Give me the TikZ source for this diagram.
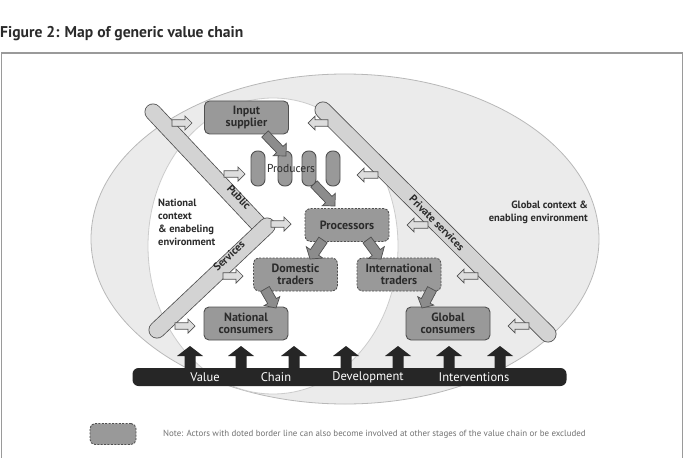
\documentclass[tikz,border=0pt]{standalone}
\usepackage{fontspec}
\setmainfont{PT Sans}
\usetikzlibrary{calc}
\definecolor{outerfill}{HTML}{EBEBEB}
\definecolor{outerline}{HTML}{B8B8B8}
\definecolor{innerline}{HTML}{CCCCCC}
\definecolor{boxfill}{HTML}{999999}
\definecolor{boxline}{HTML}{505050}
\definecolor{txt}{HTML}{2B2B2B}
\definecolor{barfill}{HTML}{D3D3D3}
\definecolor{hollowfill}{HTML}{DDDDDD}
\definecolor{fatfill}{HTML}{8C8C8C}
\definecolor{blk}{HTML}{262626}
\definecolor{framec}{HTML}{9A9A9A}
\definecolor{notec}{HTML}{707070}
\newcommand\fatarr[6]{%
  \coordinate (fah) at ($(#3)!#6!(#2)$);
  \draw[#1] ($(#2)!#4!90:(#3)$) -- ($(fah)!#4!90:(#3)$) -- ($(fah)!#5!90:(#3)$) -- (#3)
    -- ($(fah)!#5!-90:(#3)$) -- ($(fah)!#4!-90:(#3)$) -- ($(#2)!#4!-90:(#3)$) -- cycle;
}
\tikzset{
  actor/.style={draw=boxline, fill=boxfill, line width=0.9pt, rounded corners=5pt,
    minimum width=84pt, minimum height=33pt, align=center, inner sep=1pt,
    text=txt, font=\bfseries\fontsize{12}{12.5}\selectfont},
  flexactor/.style={actor, dashed, dash pattern=on 2pt off 1.4pt},
  pill/.style={draw=boxline, fill=boxfill, line width=0.9pt, rounded corners=6.5pt,
    minimum width=14pt, minimum height=35pt, inner sep=0pt},
  hollow/.style={draw=boxline, fill=hollowfill, line width=0.7pt, line join=miter},
  fat/.style={draw=boxline, fill=fatfill, line width=0.7pt},
  blkarr/.style={fill=blk, draw=none},
  ctx/.style={text=txt, font=\bfseries\fontsize{10.5}{13}\selectfont, inner sep=0pt},
  barlabel/.style={text=txt, font=\bfseries\fontsize{11}{11}\selectfont, inner sep=0pt},
  bartext/.style={text=white, font=\fontsize{12.5}{12.5}\selectfont, inner sep=0pt, anchor=center}
}
\begin{document}
\begin{tikzpicture}[x=1pt,y=-1pt]
\useasboundingbox (0,0) rectangle (684,457);
% title and frame
\node[anchor=base west, inner sep=0pt, text=txt, font=\bfseries\fontsize{15.6}{17}\selectfont] (title) at (0,38) {Figure 2: Map of generic value chain};
\draw[framec, line width=1.2pt] (1.5,462) -- (1.5,53) -- (682.5,53) -- (682.5,462);
% contexts
\draw[outerline, fill=outerfill, line width=0.8pt] (345,239) ellipse [x radius=254, y radius=165];
\draw[innerline, fill=white, line width=0.8pt] (273,246) ellipse [x radius=125, y radius=148];
% service bars
\coordinate (pubA) at (153,112);
\coordinate (pubB) at (262,228);
\coordinate (serA) at (157,330);
\coordinate (serB) at (267,226);
\coordinate (priA) at (323,110);
\coordinate (priB) at (548,334);
\draw[boxline, line width=17pt, line cap=round] (pubA) -- (pubB);
\draw[barfill, line width=15.4pt, line cap=round] (pubA) -- (pubB);
\draw[boxline, line width=17pt, line cap=round] (serA) -- (serB);
\draw[barfill, line width=15.4pt, line cap=round] (serA) -- (serB);
\draw[boxline, line width=17pt, line cap=round] (priA) -- (priB);
\draw[barfill, line width=15.4pt, line cap=round] (priA) -- (priB);
\node[barlabel, rotate=-47] (publbl) at (239,197) {Public};
\node[barlabel, rotate=43] (serlbl) at (229,256) {Services};
\node[barlabel, rotate=-45] (prilbl) at (437,223) {Private services};
% hollow arrows from services
\foreach \i/\xa/\xb/\yy in {1/172/192/123, 2/224/245/174, 3/271/291/224, 4/223/243/276, 5/175/195/326}{
  \coordinate (hlA\i) at (\xa,\yy);
  \coordinate (hlB\i) at (\xb,\yy);
  \fatarr{hollow}{hlA\i}{hlB\i}{3.2pt}{7pt}{7pt}
}
\foreach \i/\xa/\xb/\yy in {1/328/308/123, 2/378/357/175, 3/428/407/225, 4/478/457/276, 5/529/508/326}{
  \coordinate (hrA\i) at (\xa,\yy);
  \coordinate (hrB\i) at (\xb,\yy);
  \fatarr{hollow}{hrA\i}{hrB\i}{3.2pt}{7pt}{7pt}
}
% actors
\node[actor] (input) at (246.5,117.5) {Input\\supplier};
\foreach \i/\xx in {1/258,2/285,3/309,4/333}{
  \node[pill] (prod\i) at (\xx,168.5) {};
}
\node[flexactor] (proc) at (347,225) {Processors};
\node[flexactor] (dom) at (295.5,274.5) {Domestic\\traders};
\node[flexactor] (intl) at (399,274.5) {International\\traders};
\node[actor] (natc) at (246,323.5) {National\\consumers};
\node[actor] (globc) at (448,323.5) {Global\\consumers};
% flows between actors
\coordinate (f1a) at (265,134);
\coordinate (f1b) at (286,156);
\coordinate (f2a) at (314,184);
\coordinate (f2b) at (335,206);
\coordinate (f3a) at (323,240);
\coordinate (f3b) at (310,259);
\coordinate (f4a) at (367,240);
\coordinate (f4b) at (381,259);
\coordinate (f5a) at (265,289);
\coordinate (f5b) at (276,308);
\coordinate (f6a) at (432,289);
\coordinate (f6b) at (422,308);
\fatarr{fat}{f1a}{f1b}{4.5pt}{9pt}{9pt}
\fatarr{fat}{f2a}{f2b}{4.5pt}{9pt}{9pt}
\fatarr{fat}{f3a}{f3b}{5pt}{10pt}{8pt}
\fatarr{fat}{f4a}{f4b}{5pt}{10pt}{8pt}
\fatarr{fat}{f5a}{f5b}{5pt}{9pt}{8pt}
\fatarr{fat}{f6a}{f6b}{5pt}{9pt}{8pt}
\node[text=txt, inner sep=0pt, font=\fontsize{11.5}{12}\selectfont] (prodlbl) at (291,168) {Producers};
% context texts
\node[ctx, anchor=north west, align=left] (natctx) at (158,199) {National\\context\\\& enabeling\\environment};
\node[ctx, anchor=north east, align=right] (globctx) at (588,201) {Global context \&\\enabling environment};
% interventions bar
\node[fill=blk, rounded corners=6pt, minimum width=434pt, minimum height=18pt, inner sep=0pt] (vcbar) at (349.5,377) {};
\foreach \i/\xx in {1/190,2/241,3/294,4/346,5/398,6/449,7/500}{
  \coordinate (bkA\i) at (\xx,372);
  \coordinate (bkB\i) at (\xx,346);
  \fatarr{blkarr}{bkA\i}{bkB\i}{5.5pt}{13pt}{10pt}
}
\node[bartext] (t1) at (205,377.5) {Value};
\node[bartext] (t2) at (276,377.5) {Chain};
\node[bartext] (t3) at (368,377.5) {Development};
\node[bartext] (t4) at (474,377.5) {Interventions};
% legend
\node[flexactor, minimum width=46pt, minimum height=21pt] (legbox) at (113,434) {};
\node[anchor=west, inner sep=0pt, text=notec, font=\fontsize{8.9}{10}\selectfont] (note) at (163,434.5) {Note: Actors with doted border line can also become involved at other stages of the value chain or be excluded};
\end{tikzpicture}
\end{document}
